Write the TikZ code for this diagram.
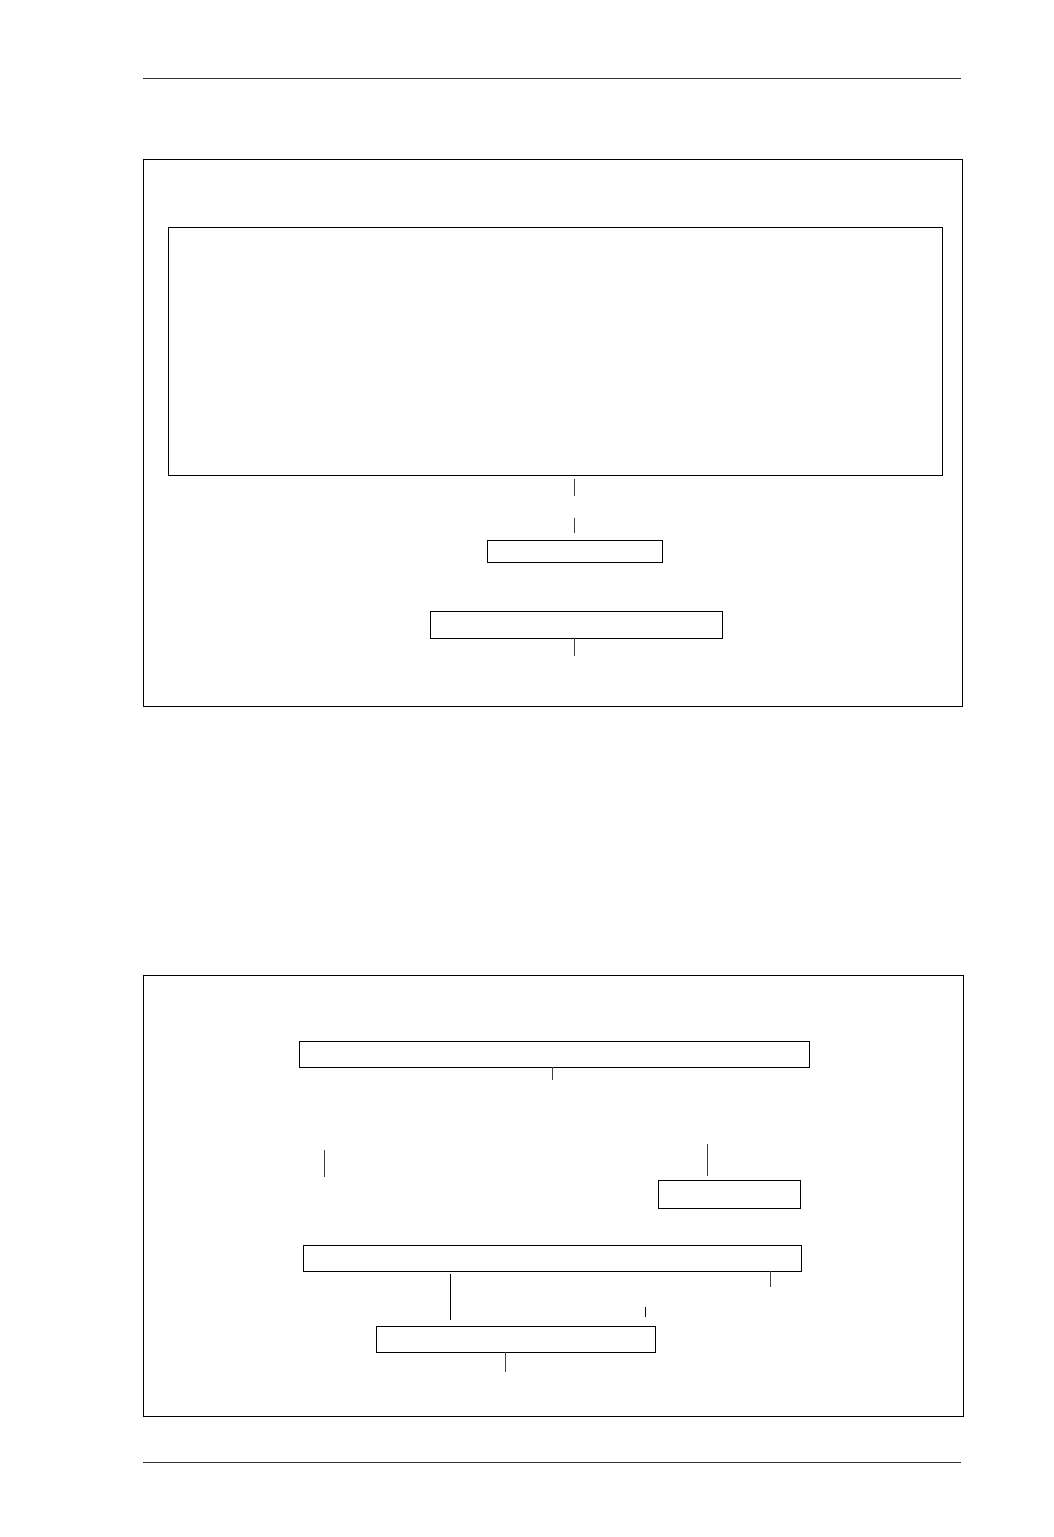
\documentclass[tikz,border=0pt]{standalone}
\begin{document}
\begin{tikzpicture}[x=1pt,y=-1pt,
  box/.style={draw=black,line width=1pt,inner sep=0pt,outer sep=0pt,rectangle},
  stub/.style={draw=black!75,line width=1pt},
  rule/.style={draw=black!80,line width=0.8pt}]
\useasboundingbox[fill=white] (0,0) rectangle (1053,1537);
% header/footer rules
\coordinate (h1) at (143,78); \coordinate (h2) at (961,78);
\coordinate (f1) at (143,1462); \coordinate (f2) at (961,1462);
\draw[rule] (h1) -- (h2);
\draw[rule] (f1) -- (f2);
% frame 1
\node[box,minimum width=819pt,minimum height=547pt] (frameA) at (552.5,432.5) {};
\node[box,minimum width=774pt,minimum height=248pt] (inner) at (555,351) {};
\coordinate (s1a) at (574,479); \coordinate (s1b) at (574,496);
\coordinate (s2a) at (574,518); \coordinate (s2b) at (574,533);
\draw[stub] (s1a) -- (s1b);
\draw[stub] (s2a) -- (s2b);
\node[box,minimum width=175pt,minimum height=22pt] (bA) at (574.5,551) {};
\node[box,minimum width=292pt,minimum height=27pt] (bB) at (576,624.5) {};
\coordinate (s3b) at (574,656);
\draw[stub] (bB.south -| s3b) -- (s3b);
% frame 2
\node[box,minimum width=820pt,minimum height=441pt] (frameB) at (553,1195.5) {};
\node[box,minimum width=510pt,minimum height=26pt] (bC) at (554,1054) {};
\coordinate (s4b) at (552,1080);
\draw[stub] (bC.south -| s4b) -- (s4b);
\coordinate (s5a) at (324,1150); \coordinate (s5b) at (324,1177);
\draw[stub] (s5a) -- (s5b);
\coordinate (s6a) at (707,1144); \coordinate (s6b) at (707,1176);
\draw[stub] (s6a) -- (s6b);
\node[box,minimum width=142pt,minimum height=28pt] (bD) at (729,1194) {};
\node[box,minimum width=498pt,minimum height=26pt] (bE) at (552,1258) {};
\coordinate (s7a) at (450,1274); \coordinate (s7b) at (450,1320);
\draw[stub,draw=black] (s7a) -- (s7b);
\coordinate (s8b) at (770,1287);
\draw[stub] (bE.south -| s8b) -- (s8b);
\coordinate (s9a) at (645,1307); \coordinate (s9b) at (645,1317);
\draw[stub,draw=black] (s9a) -- (s9b);
\node[box,minimum width=279pt,minimum height=26pt] (bF) at (515.5,1339) {};
\coordinate (s10b) at (505,1372);
\draw[stub] (bF.south -| s10b) -- (s10b);
\end{tikzpicture}
\end{document}
